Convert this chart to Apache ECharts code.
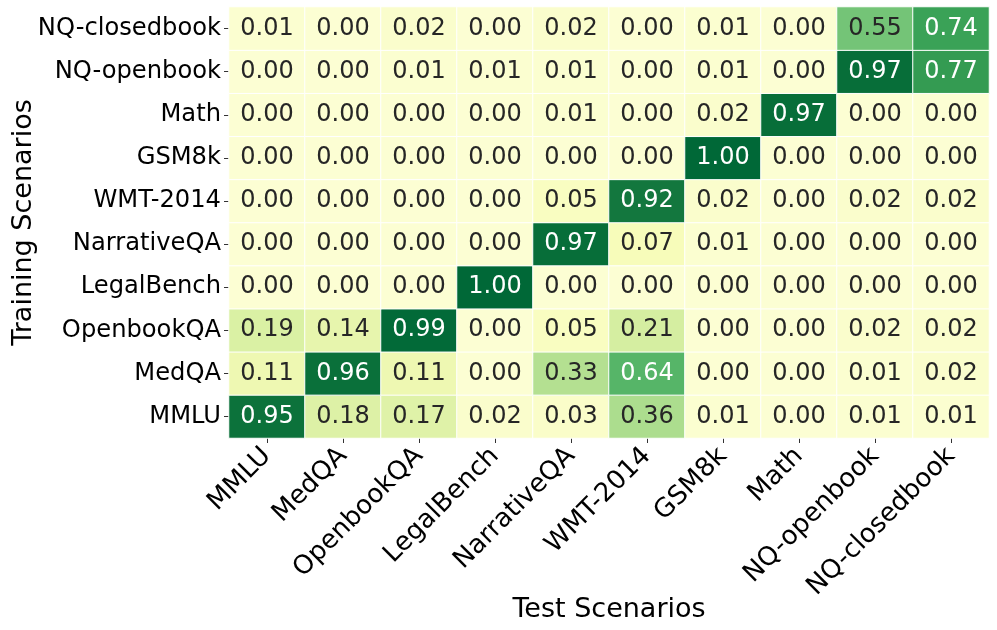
<!DOCTYPE html>
<html>
<head>
<meta charset="utf-8">
<script src="https://cdn.jsdelivr.net/npm/echarts@6/dist/echarts.min.js"></script>
<style>html,body{margin:0;padding:0;background:#fff}#c{width:997px;height:630px}</style>
</head>
<body>
<div id="c"></div>
<script>
// Test scenarios (x, left to right)
const testScenarios = ['MMLU','MedQA','OpenbookQA','LegalBench','NarrativeQA','WMT-2014','GSM8k','Math','NQ-openbook','NQ-closedbook'];
// Training scenarios (y, bottom to top)
const trainScenarios = ['MMLU','MedQA','OpenbookQA','LegalBench','NarrativeQA','WMT-2014','GSM8k','Math','NQ-openbook','NQ-closedbook'];

// One row per training scenario, values across test scenarios
const rowMMLU         = [0.95,0.18,0.17,0.02,0.03,0.36,0.01,0.00,0.01,0.01];
const rowMedQA        = [0.11,0.96,0.11,0.00,0.33,0.64,0.00,0.00,0.01,0.02];
const rowOpenbookQA   = [0.19,0.14,0.99,0.00,0.05,0.21,0.00,0.00,0.02,0.02];
const rowLegalBench   = [0.00,0.00,0.00,1.00,0.00,0.00,0.00,0.00,0.00,0.00];
const rowNarrativeQA  = [0.00,0.00,0.00,0.00,0.97,0.07,0.01,0.00,0.00,0.00];
const rowWMT          = [0.00,0.00,0.00,0.00,0.05,0.92,0.02,0.00,0.02,0.02];
const rowGSM8k        = [0.00,0.00,0.00,0.00,0.00,0.00,1.00,0.00,0.00,0.00];
const rowMath         = [0.00,0.00,0.00,0.00,0.01,0.00,0.02,0.97,0.00,0.00];
const rowNQopen       = [0.00,0.00,0.01,0.01,0.01,0.00,0.01,0.00,0.97,0.77];
const rowNQclosed     = [0.01,0.00,0.02,0.00,0.02,0.00,0.01,0.00,0.55,0.74];

const rows = [rowMMLU,rowMedQA,rowOpenbookQA,rowLegalBench,rowNarrativeQA,rowWMT,rowGSM8k,rowMath,rowNQopen,rowNQclosed];

// YlGn colormap
const ylgn = ['#ffffe5','#f7fcb9','#d9f0a3','#addd8e','#78c679','#41ab5d','#238443','#006837','#004529'];
function hex2rgb(h){return [parseInt(h.slice(1,3),16),parseInt(h.slice(3,5),16),parseInt(h.slice(5,7),16)];}
function sampleCmap(t){
  t=Math.max(0,Math.min(1,t));
  const p=t*(ylgn.length-1); const i=Math.min(Math.floor(p),ylgn.length-2); const f=p-i;
  const a=hex2rgb(ylgn[i]), b=hex2rgb(ylgn[i+1]);
  return 'rgb('+a.map((v,k)=>Math.round(v+(b[k]-v)*f)).join(',')+')';
}
// value -> colormap position (style mapping)
const normV=[0,0.2,0.35,0.55,0.75,1];
const normT=[0.05,0.255,0.37,0.51,0.66,0.875];
function norm(v){
  for(let i=0;i<normV.length-1;i++){
    if(v<=normV[i+1]){const f=(v-normV[i])/(normV[i+1]-normV[i]);return normT[i]+(normT[i+1]-normT[i])*f;}
  }
  return normT[normT.length-1];
}
const colorStops=[];
for(let k=0;k<=100;k++){colorStops.push(sampleCmap(norm(k/100)));}

const data=[];
rows.forEach((row,yi)=>{
  row.forEach((v,xi)=>{
    data.push({value:[xi,yi,v],label:{color: v>0.6?'#ffffff':'#262626'}});
  });
});

const chart=echarts.init(document.getElementById('c'));
chart.setOption({
  animation:false,
  textStyle:{fontFamily:'DejaVu Sans'},
  grid:{left:229,right:8,top:7,bottom:192,containLabel:false,outerBoundsMode:'none'},
  xAxis:{
    type:'category',data:testScenarios,
    name:'Test Scenarios',nameLocation:'middle',nameGap:158,nameMoveOverlap:false,
    nameTextStyle:{fontSize:27,color:'#000',fontFamily:'DejaVu Sans'},
    axisLine:{show:false},
    axisTick:{show:true,alignWithLabel:true,length:5,lineStyle:{color:'#333',width:1}},
    axisLabel:{rotate:45,fontSize:26,color:'#000',margin:14,interval:0,fontFamily:'DejaVu Sans'},
    splitArea:{show:false}
  },
  yAxis:{
    type:'category',data:trainScenarios,
    name:'Training Scenarios',nameLocation:'middle',nameGap:192,nameRotate:90,nameMoveOverlap:false,
    nameTextStyle:{fontSize:27,color:'#000',fontFamily:'DejaVu Sans'},
    axisLine:{show:false},
    axisTick:{show:true,alignWithLabel:true,length:5,lineStyle:{color:'#333',width:1}},
    axisLabel:{fontSize:24.2,color:'#000',margin:8,interval:0,fontFamily:'DejaVu Sans'}
  },
  visualMap:{show:false,min:0,max:1,dimension:2,inRange:{color:colorStops}},
  series:[{
    type:'heatmap',data:data,
    itemStyle:{borderColor:'#ffffff',borderWidth:1},
    label:{show:true,fontSize:24,fontFamily:'DejaVu Sans',formatter:p=>p.value[2].toFixed(2)},
    emphasis:{disabled:true}
  }]
});
</script>
</body>
</html>
